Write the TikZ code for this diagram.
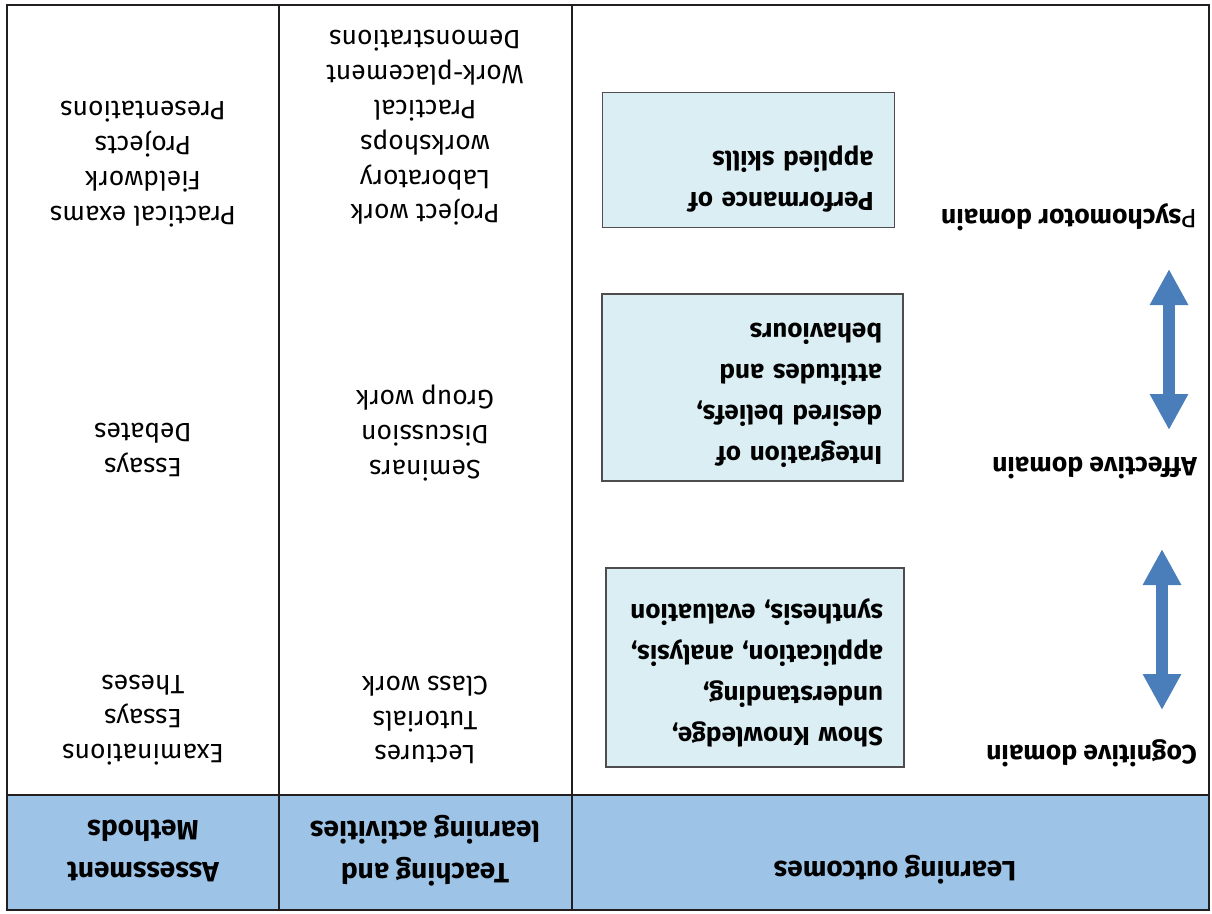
\documentclass[tikz,border=0pt]{standalone}
\usepackage{fontspec}
\setmainfont{Fira Sans}
\usetikzlibrary{arrows.meta}
\definecolor{hdr}{HTML}{9DC3E6}
\definecolor{boxfill}{HTML}{DAEEF3}
\definecolor{arr}{HTML}{4A7EBB}
\definecolor{ln}{HTML}{231F20}
\begin{document}
\begin{tikzpicture}[x=1pt,y=-1pt,
  lbl/.style={rotate=180, font=\fontsize{26.5}{34.8}\selectfont, align=center, inner sep=0pt},
  hd/.style={rotate=180, font=\bfseries\fontsize{28}{42}\selectfont, align=center, inner sep=0pt},
  dom/.style={rotate=180, font=\bfseries\fontsize{26.5}{30}\selectfont, inner sep=0pt, anchor=west},
  obox/.style={rotate=180, draw=ln!80, line width=1.2pt, fill=boxfill, align=left,
     font=\bfseries\fontsize{26}{41}\selectfont, inner xsep=21pt, inner ysep=0pt},
  grid/.style={draw=ln, line width=2.5pt},
  bigarrow/.style={draw=arr, line width=12pt, {Triangle[width=36pt,length=36pt]}-{Triangle[width=36pt,length=36pt]}}
]
\useasboundingbox (0,0) rectangle (1212,913);
% header band
\fill[hdr] (7,795) rectangle (1209,910);
% grid
\draw[grid] (7,795) -- (1209,795);
\draw[grid] (279,5) -- (279,910);
\draw[grid] (572,5) -- (572,910);
\draw[grid] (7,5) rectangle (1209,910);

% headers
\node[hd] (hLO) at (895,870) {Learning outcomes};
\node[hd] (hTL) at (425,851) {Teaching and\\learning activities};
\node[hd] (hAM) at (143,851) {Assessment\\Methods};

% teaching column
\node[lbl] (t1) at (425,720) {Lectures\\Tutorials\\Class work};
\node[lbl] (t2) at (425,433) {Seminars\\Discussion\\Group work};
\node[lbl] (t3) at (425,128) {Project work\\Laboratory\\workshops\\Practical\\Work-placement\\Demonstrations};

% assessment column
\node[lbl] (a1) at (143,720) {Examinations\\Essays\\Theses};
\node[lbl] (a2) at (143,450) {Essays\\Debates};
\node[lbl] (a3) at (143,164) {Practical exams\\Fieldwork\\Projects\\Presentations};

% outcome boxes
\node[obox, minimum width=298pt, minimum height=199pt, text width=256pt] (b1) at (755,667.5)
  {\mbox{Show Knowledge,}\\ \mbox{understanding,}\\ \mbox{application, analysis,}\\ \mbox{synthesis, evaluation}\rule[-16pt]{0pt}{0pt}};
\node[obox, minimum width=301pt, minimum height=187pt, text width=259pt] (b2) at (752.5,387.5)
  {Integration of\\ desired beliefs,\\ attitudes and\\ behaviours\rule[-16pt]{0pt}{0pt}};
\node[obox, minimum width=292pt, minimum height=135pt, text width=250pt] (b3) at (748.5,160)
  {Performance of\\ applied skills\rule[-44pt]{0pt}{0pt}};

% domains
\node[dom] (dC) at (1197,753) {Cognitive domain};
\node[dom] (dA) at (1197,468) {Affective domain};
\node[dom] (dP) at (1197,217) {{\mdseries P}sychomotor domain};

% arrows
\coordinate (r1t) at (1169,269);
\coordinate (r1b) at (1169,430);
\coordinate (r2t) at (1162,549);
\coordinate (r2b) at (1162,710);
\draw[bigarrow] (r1t) -- (r1b);
\draw[bigarrow] (r2t) -- (r2b);
\end{tikzpicture}
\end{document}
